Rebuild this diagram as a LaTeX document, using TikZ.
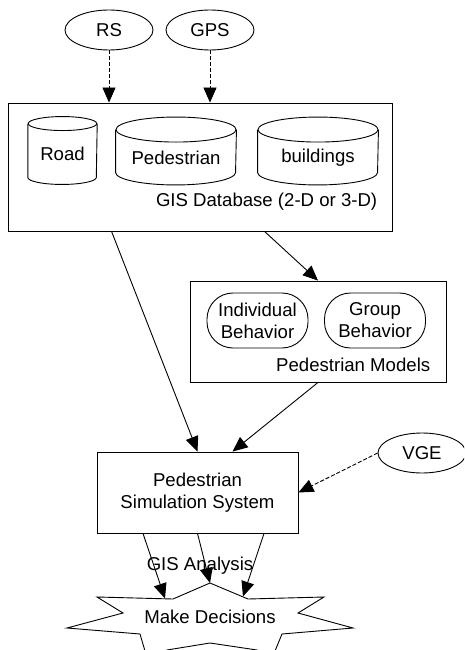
\documentclass[tikz,border=0pt]{standalone}
\usepackage{fontspec}
\setmainfont{Liberation Sans}
\usetikzlibrary{shapes.geometric,arrows.meta}
\tikzset{
  source/.style={draw, ellipse, minimum width=88pt, minimum height=40pt, inner sep=0pt},
  store/.style={rectangle, minimum height=67pt, inner sep=0pt},
  frame/.style={draw, rectangle, inner sep=0pt},
  behav/.style={draw, rounded corners=26pt, minimum width=101pt, minimum height=55pt, align=center, inner sep=0pt},
  flow/.style={-{Triangle[length=15pt,width=13pt]}},
  feed/.style={flow, dash pattern=on 4pt off 2pt},
}
% drum outline round a store node: name, half width, cap radius
\newcommand\drum[3]{%
  \draw ([yshift=-#3]#1.north west) -- ([yshift=#3]#1.south west)
    arc[start angle=180, end angle=360, x radius=#2, y radius=#3]
    -- ([yshift=-#3]#1.north east);
  \draw ([yshift=-#3]#1.north) ellipse[x radius=#2, y radius=#3];
}
\begin{document}
\begin{tikzpicture}[x=1pt, y=-1pt, font=\fontsize{18.6}{22}\selectfont, line width=0.9pt]
\clip (0,0) rectangle (464,650);
% data sources
\node[source] (rs) at (109,30) {RS};
\node[source] (gps) at (210,30) {GPS};
\node[source] (vge) at (422,453) {VGE};
% GIS database
\node[frame, minimum width=384pt, minimum height=128pt] (gis) at (200,167) {};
\node[store, minimum width=68.5pt, label={[yshift=-3pt]center:Road}] (road) at (62.5,150.5) {};
\node[store, minimum width=120pt, label={[yshift=-6.5pt]center:Pedestrian}] (ped) at (176,151) {};
\node[store, minimum width=120pt, label={[yshift=-6.5pt]center:buildings}] (bld) at (318,151) {};
\drum{road}{34.25pt}{7pt}
\drum{ped}{60pt}{12.5pt}
\drum{bld}{60pt}{12.5pt}
\node[anchor=east] (gislabel) at (381,202) {GIS Database (2-D or 3-D)};
% pedestrian models
\node[frame, minimum width=256pt, minimum height=101pt] (models) at (318,331.5) {};
\node[behav] (indiv) at (257.5,320.5) {Individual\\Behavior};
\node[behav] (group) at (375,320.5) {Group\\Behavior};
\node[anchor=east] (modlabel) at (434,365) {Pedestrian Models};
% simulation
\node[frame, minimum width=201pt, minimum height=81pt, align=center] (sim) at (197.5,492.5) {Pedestrian\\Simulation System};
% decisions
\coordinate (s1) at (210,583);
\coordinate (s2) at (248,599);
\coordinate (s3) at (324,597);
\coordinate (s4) at (298,613);
\coordinate (s5) at (353,628);
\coordinate (s6) at (282,634);
\coordinate (s7) at (268,668);
\coordinate (s8) at (257,650);
\coordinate (s9) at (210,643);
\coordinate (s10) at (167,650);
\coordinate (s11) at (150,668);
\coordinate (s12) at (140,634);
\coordinate (s13) at (67,628);
\coordinate (s14) at (123,613);
\coordinate (s15) at (97,597);
\coordinate (s16) at (173,599);
\draw (s1) -- (s2) -- (s3) -- (s4) -- (s5) -- (s6) -- (s7) -- (s8) -- (s9)
  -- (s10) -- (s11) -- (s12) -- (s13) -- (s14) -- (s15) -- (s16) -- cycle;
\node (decide) at (210,617) {Make Decisions};
\node (analysis) at (200,566) {GIS Analysis};
\coordinate (hitl) at (165,598.5);
\coordinate (hitr) at (243,596.5);
% connectors
\draw[feed] (rs) -- (rs |- gis.north);
\draw[feed] (gps) -- (gps |- gis.north);
\draw[flow] ([xshift=104pt]gis.south west) -- (sim.north);
\draw[flow] ([xshift=257pt]gis.south west) -- (models.north);
\draw[flow] (models.south) -- ([xshift=35pt]sim.north);
\draw[feed] (vge.west) -- (sim.east);
\draw[flow] ([xshift=-54.5pt]sim.south) -- (hitl);
\draw[flow] (sim.south) -- (s1);
\draw[flow] ([xshift=66.5pt]sim.south) -- (hitr);
\end{tikzpicture}
\end{document}
